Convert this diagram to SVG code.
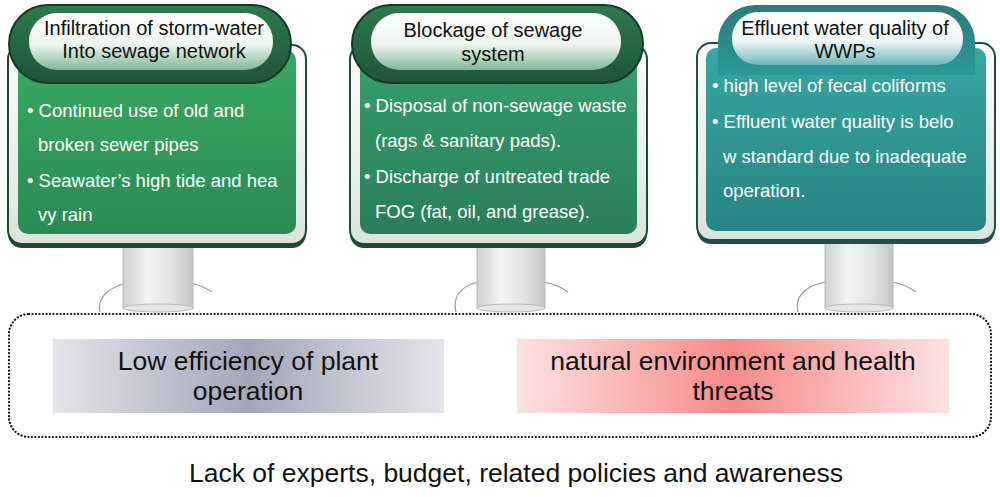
<svg xmlns="http://www.w3.org/2000/svg" width="1000" height="497" viewBox="0 0 1000 497">
<style>
.hd{font-family:"Liberation Sans",Arial,sans-serif;font-size:20px;fill:#111;text-anchor:middle}
.bl{font-family:"Liberation Sans",Arial,sans-serif;font-size:18.5px;fill:#fff}
.mid{font-family:"Liberation Sans",Arial,sans-serif;font-size:26.5px;fill:#111;text-anchor:middle}
.frame{stroke-width:2}
.pole{fill:url(#gPole);stroke:#b8b8b8;stroke-width:1}
.base{fill:none;stroke:#9a9a9a;stroke-width:1.2}
</style>
<defs>
<linearGradient id="gPole" x1="0" y1="0" x2="1" y2="0">
<stop offset="0" stop-color="#cfcfcf"/><stop offset="0.35" stop-color="#f4f4f4"/><stop offset="0.7" stop-color="#e2e2e2"/><stop offset="1" stop-color="#c4c4c4"/>
</linearGradient>
<linearGradient id="gRim" x1="0" y1="0" x2="0" y2="1">
<stop offset="0" stop-color="#ffffff"/><stop offset="1" stop-color="#d9e4dc"/>
</linearGradient>
<linearGradient id="gG1" x1="0" y1="0" x2="0" y2="1">
<stop offset="0" stop-color="#3aaa62"/><stop offset="1" stop-color="#2b8a55"/>
</linearGradient>
<linearGradient id="gG2" x1="0" y1="0" x2="0" y2="1">
<stop offset="0" stop-color="#36a06a"/><stop offset="1" stop-color="#2a7e5a"/>
</linearGradient>
<linearGradient id="gG3" x1="0" y1="0" x2="0" y2="1">
<stop offset="0" stop-color="#36a8a2"/><stop offset="1" stop-color="#2a8482"/>
</linearGradient>
<linearGradient id="gH1" x1="0" y1="0" x2="0" y2="1">
<stop offset="0" stop-color="#2f7a4c"/><stop offset="1" stop-color="#1e5536"/>
</linearGradient>
<linearGradient id="gH3" x1="0" y1="0" x2="0" y2="1">
<stop offset="0" stop-color="#2d7b7b"/><stop offset="1" stop-color="#2a9a98"/>
</linearGradient>
<linearGradient id="gP1" x1="0" y1="0" x2="0" y2="1">
<stop offset="0" stop-color="#ffffff"/><stop offset="0.55" stop-color="#eef5f0"/><stop offset="1" stop-color="#7fb894"/>
</linearGradient>
<linearGradient id="gP3" x1="0" y1="0" x2="0" y2="1">
<stop offset="0" stop-color="#ffffff"/><stop offset="0.55" stop-color="#eef6f6"/><stop offset="1" stop-color="#6fb7b7"/>
</linearGradient>
<linearGradient id="gGray" x1="0" y1="0" x2="1" y2="0">
<stop offset="0" stop-color="#e4e4ea"/><stop offset="0.5" stop-color="#a3a6ba"/><stop offset="1" stop-color="#e4e4ea"/>
</linearGradient>
<linearGradient id="gRed" x1="0" y1="0" x2="1" y2="0">
<stop offset="0" stop-color="#fde2e2"/><stop offset="0.5" stop-color="#f78a8a"/><stop offset="1" stop-color="#fde2e2"/>
</linearGradient>
</defs>

<g id="poles">
<path class="base" d="M100,312 C96,296 112,286 130,282 M186,282 C198,284 206,288 212,292"/>
<rect class="pole" x="123" y="243" width="70" height="65"/>
<ellipse cx="158" cy="308" rx="35" ry="4" fill="#e6e6e6" stroke="#b8b8b8"/>
<path class="base" d="M456,312 C452,296 462,286 478,282 M543,282 C556,284 562,288 568,292"/>
<rect class="pole" x="477" y="243" width="68" height="65"/>
<ellipse cx="511" cy="308" rx="34" ry="4" fill="#e6e6e6" stroke="#b8b8b8"/>
<path class="base" d="M798,312 C794,296 806,286 825,282 M892,282 C904,284 910,288 916,292"/>
<rect class="pole" x="825" y="240" width="68" height="68"/>
<ellipse cx="859" cy="308" rx="34" ry="4" fill="#e6e6e6" stroke="#b8b8b8"/>
</g>

<g id="sign1">
<rect x="8" y="48" width="298" height="200" rx="14" fill="#1f4a33"/>
<rect class="frame" x="8" y="45" width="298" height="199" rx="14" fill="url(#gRim)" stroke="#1f4a33"/>
<rect x="18" y="50" width="278" height="184" rx="10" fill="url(#gG1)"/>
<rect class="frame" x="9" y="5" width="282" height="78" rx="39" fill="url(#gH1)" stroke="#143a26"/>
<rect x="29" y="13" width="244" height="57" rx="28" fill="url(#gP1)"/>
<text class="hd" x="154" y="35">Infiltration of storm-water</text>
<text class="hd" x="154" y="58">Into sewage network</text>
<text class="bl" x="27" y="117">• Continued use of old and</text>
<text class="bl" x="38" y="151">broken  sewer pipes</text>
<text class="bl" x="27" y="187">• Seawater’s high tide and hea</text>
<text class="bl" x="38" y="221">vy rain</text>
</g>

<g id="sign2">
<rect x="350" y="48" width="297" height="200" rx="14" fill="#1f4a33"/>
<rect class="frame" x="350" y="45" width="297" height="199" rx="14" fill="url(#gRim)" stroke="#1f4a33"/>
<rect x="360" y="50" width="277" height="184" rx="10" fill="url(#gG2)"/>
<rect class="frame" x="352" y="5" width="291" height="78" rx="39" fill="url(#gH1)" stroke="#143a26"/>
<rect x="371" y="13" width="250" height="57" rx="28" fill="url(#gP1)"/>
<text class="hd" x="493" y="37">Blockage of sewage</text>
<text class="hd" x="493" y="61">system</text>
<text class="bl" x="364" y="112">• Disposal of non-sewage waste</text>
<text class="bl" x="375" y="147">(rags &amp; sanitary pads).</text>
<text class="bl" x="364" y="183">• Discharge of untreated trade</text>
<text class="bl" x="375" y="218">FOG (fat, oil, and grease).</text>
</g>

<g id="sign3">
<rect x="697" y="46" width="298" height="198" rx="14" fill="#1d4f4d"/>
<rect class="frame" x="697" y="43" width="298" height="197" rx="14" fill="url(#gRim)" stroke="#1d4f4d"/>
<rect x="706" y="48" width="280" height="183" rx="10" fill="url(#gG3)"/>
<path d="M718,75 L718,42 A37,37 0 0 1 755,5 L938,5 A37,37 0 0 1 975,42 L975,75 Z" fill="url(#gH3)"/>
<rect x="732" y="12" width="231" height="53" rx="26" fill="url(#gP3)"/>
<text class="hd" x="845" y="35" font-size="20.5">Effluent water quality of</text>
<text class="hd" x="845" y="58" font-size="20.5">WWPs</text>
<text class="bl" x="712" y="92">• high level of fecal coliforms</text>
<text class="bl" x="712" y="128">• Effluent water quality is belo</text>
<text class="bl" x="723" y="163">w standard due to inadequate</text>
<text class="bl" x="723" y="197">operation.</text>
</g>

<g id="container">
<rect x="9" y="314" width="982" height="123" rx="20" fill="none" stroke="#111" stroke-width="2.2" stroke-dasharray="0.1 3.4" stroke-linecap="round"/>
</g>

<g id="lowEfficiency">
<rect x="53" y="339" width="391" height="74" fill="url(#gGray)"/>
<text class="mid" x="248" y="370">Low efficiency of plant</text>
<text class="mid" x="248" y="400">operation</text>
</g>

<g id="threats">
<rect x="517" y="339" width="432" height="74" fill="url(#gRed)"/>
<text class="mid" x="733" y="370">natural environment and health</text>
<text class="mid" x="733" y="400">threats</text>
</g>

<g id="footer">
<text class="mid" x="516" y="482" font-size="27.5">Lack of experts, budget, related policies and awareness</text>
</g>
</svg>
